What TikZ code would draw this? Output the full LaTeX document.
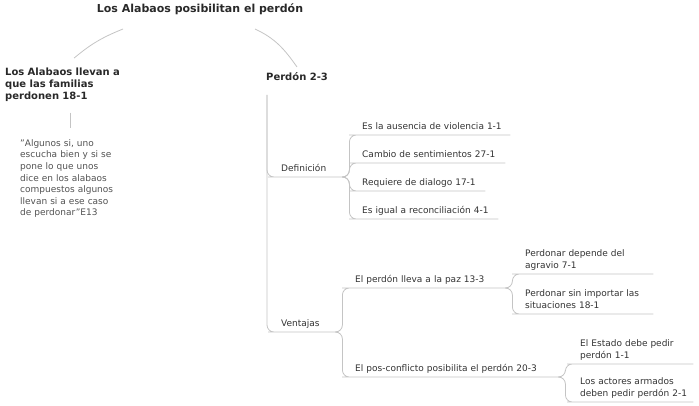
\documentclass[tikz,border=0pt]{standalone}
\usepackage{fontspec}
\setmainfont{DejaVu Sans}
\usepackage{xcolor}
\usepackage{tikz}

\definecolor{ink}{HTML}{333333}
\definecolor{wire}{HTML}{C4C4C4}

\begin{document}
\begin{tikzpicture}[x=1pt, y=1pt,
    head/.style={font=\bfseries\fontsize{11}{12}\selectfont, text=ink!80!black, inner sep=2pt},
    subhead/.style={head, font=\bfseries\fontsize{10}{12}\selectfont},
    leaf/.style={font=\fontsize{9}{12}\selectfont, text=ink, anchor=south west,
        align=left, inner xsep=6pt, inner ysep=2pt, execute at end node=\strut},
    link/.style={draw=wire, line width=0.8pt, rounded corners=7pt}]
                        \useasboundingbox (0, 0) rectangle (699, -406);

                        \node (title) at (200, -13) [head, anchor=base] {Los Alabaos posibilitan el perdón};

                        \node (alabaos) at (1, -66) [subhead, anchor=north west, align=left, text width=130, inner xsep=4pt] {
                            Los Alabaos llevan a\\que las familias\\perdonen 18-1\strut
                        };
                        \node (cita) at (16, -136) [anchor=north west, align=left, text width=100, inner xsep=4pt,
                            font=\fontsize{9}{11.6}\selectfont, text=ink!85] {
                            "Algunos si, uno\\escucha bien y si se\\pone lo que unos\\dice en los alabaos\\compuestos algunos\\llevan si a ese caso\\de perdonar"E13
                        };

                        \node (perdon) at (264, -81) [subhead, anchor=base west] {Perdón 2-3};

                        % definicion
                        \node (def) at (275, -177) [leaf, text width=56] {Definición};
                        \node (d1) at (356, -135) [leaf, text width=142] {Es la ausencia de violencia 1-1};
                        \node (d2) at (356, -163) [leaf, text width=137] {Cambio de sentimientos 27-1};
                        \node (d3) at (356, -191) [leaf, text width=117] {Requiere de dialogo 17-1};
                        \node (d4) at (356, -219) [leaf, text width=130] {Es igual a reconciliación 4-1};

                        % ventajas
                        \node (ven) at (275, -332) [leaf, text width=50] {Ventajas};
                        \node (paz) at (349, -288) [leaf, text width=146] {El perdón lleva a la paz 13-3};
                        \node (pos) at (349, -377) [leaf, text width=199] {El pos-conflicto posibilita el perdón 20-3};
                        \node (agravio) at (519, -274) [leaf, text width=122] {Perdonar depende del\\agravio 7-1};
                        \node (situa) at (519, -314) [leaf, text width=122] {Perdonar sin importar las\\situaciones 18-1};
                        \node (estado) at (574, -364) [leaf, text width=107] {El Estado debe pedir\\perdón 1-1};
                        \node (actores) at (574, -402) [leaf, text width=107] {Los actores armados\\deben pedir perdón 2-1};

                        \draw[link] ([shift={(-77,-16)}]title.base) to [out=202, in=40] ([shift={(4,8)}]alabaos.north);
                        \draw[link] ([shift={(55,-16)}]title.base) to [out=-25, in=125] ([shift={(33,14)}]perdon.base west);
                        \draw[link, shorten <=7pt, shorten >=8pt] (alabaos.south) -- (cita.north);

                        \draw[link] (perdon.base west) ++(3,-14) |- (def.south west) -- (def.south east);
                        \draw[link] (perdon.base west) ++(3,-14) |- (ven.south west) -- (ven.south east);

                        \foreach \c in {d1, d2, d3, d4}
                            \draw[link] (def.south east) -- ++(6,0) |- (\c.south west) -- (\c.south east);
                        \foreach \c in {paz, pos}
                            \draw[link] (ven.south east) -- ++(5,0) |- (\c.south west) -- (\c.south east);
                        \foreach \c in {agravio, situa}
                            \draw[link] (paz.south east) -- ++(5,0) |- (\c.south west) -- (\c.south east);
                        \foreach \c in {estado, actores}
                            \draw[link] (pos.south east) -- ++(5,0) |- (\c.south west) -- (\c.south east);
                    \end{tikzpicture}
\end{document}
